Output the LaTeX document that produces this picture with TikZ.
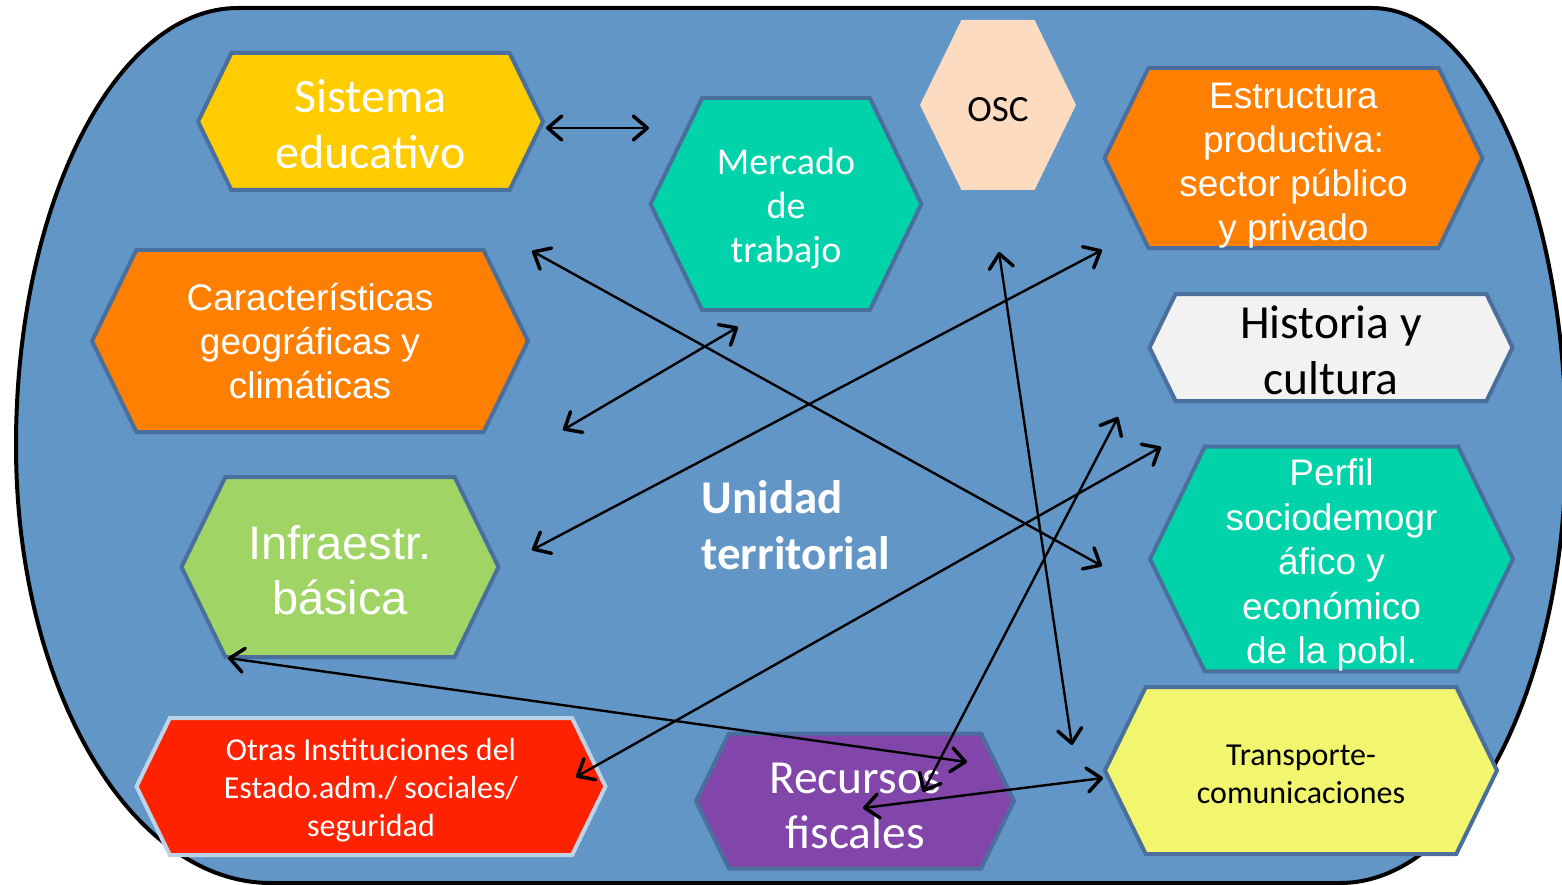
\documentclass[tikz,border=0pt]{standalone}
\usepackage{fontspec}
\setmainfont{Carlito}
\newfontfamily\arialfont{Liberation Sans}
\usetikzlibrary{shapes.symbols,arrows.meta}

\definecolor{fondo}{HTML}{6296C7}
\definecolor{borde}{HTML}{4A6F9C}
\definecolor{amarillo}{HTML}{FFCC00}
\definecolor{turquesa}{HTML}{00D2AA}
\definecolor{durazno}{HTML}{FDDBC0}
\definecolor{naranja}{HTML}{FF7F00}
\definecolor{gris}{HTML}{F2F2F2}
\definecolor{verde}{HTML}{A0D464}
\definecolor{rojo}{HTML}{FF2200}
\definecolor{celeste}{HTML}{BCD3E8}
\definecolor{morado}{HTML}{8246AA}
\definecolor{limon}{HTML}{F2F56E}

\newcommand{\fs}[2]{\fontsize{#1}{#2}\selectfont}
% strut on the first line, pushes the text down a little
\newcommand{\tope}[1]{\rule{0pt}{#1pt}}

\begin{document}
\begin{tikzpicture}[x=1pt, y=-1pt,
  hexa/.style={signal, signal to=east and west, signal pointer angle=128,
    draw=borde, line width=4pt, inner sep=0pt, align=center, text=white},
  flecha/.style={line width=2.4pt, >={Straight Barb[length=14pt,width=24pt,line width=3.5pt,round]}, <->}]

\useasboundingbox (0,0) rectangle (1562,885);

% Background
\draw[fill=fondo, line width=4pt] (238,8) -- (1372,8)
  arc[start angle=-90, end angle=0, x radius=194, y radius=437.5]
  arc[start angle=0, end angle=90, x radius=226, y radius=437.5]
  -- (271,883)
  arc[start angle=90, end angle=180, x radius=255, y radius=437.5]
  arc[start angle=180, end angle=270, x radius=222, y radius=437.5]
  -- cycle;

% Nodes
\node (sis) [hexa, fill=amarillo, minimum width=345pt, minimum height=137pt, font=\fs{48}{56}] at (370.5,121.5) {\tope{38}Sistema\\educativo};
\node (mer) [hexa, fill=turquesa, minimum width=271pt, minimum height=212pt, font=\fs{38}{44}] at (786,204) {\tope{35.5}Mercado\\de\\trabajo};
\node (osc) [hexa, fill=durazno, draw=none, text=black, minimum width=156pt, minimum height=170pt, font=\fs{37}{44}] at (998,105) {\tope{32.5}OSC};
\node (est) [hexa, fill=naranja, minimum width=378pt, minimum height=180pt, font=\arialfont\fs{37}{44}] at (1293.5,158) {\tope{40.5}Estructura\\productiva:\\sector público\\y privado};
\node (car) [hexa, fill=naranja, minimum width=436pt, minimum height=182pt, font=\arialfont\fs{37}{44}] at (310,341) {Características\\geográficas y\\climáticas};
\node (his) [hexa, fill=gris, text=black, minimum width=363pt, minimum height=107pt, font=\fs{47.5}{56}] at (1331,347.5) {\tope{39}Historia y\\cultura};
\node (inf) [hexa, fill=verde, minimum width=317pt, minimum height=180pt, font=\arialfont\fs{47}{55}] at (340,567) {\tope{40.3}Infraestr.\\básica};
\node (per) [hexa, fill=turquesa, minimum width=363pt, minimum height=224pt, font=\arialfont\fs{37}{44.5}] at (1331.5,559) {\tope{39}Perfil\\sociodemogr\\áfico y\\económico\\de la pobl.};
\node (otr) [hexa, fill=rojo, draw=celeste, minimum width=469pt, minimum height=137pt, font=\fs{32}{38}] at (371,786.5) {\tope{30.4}Otras Instituciones del\\Estado.adm./ sociales/\\seguridad};
\node (rec) [hexa, fill=morado, minimum width=318pt, minimum height=135pt, font=\fs{47.5}{55}] at (855,801) {\tope{40.6}Recursos\\fiscales};
\node (tra) [hexa, fill=limon, text=black, minimum width=392pt, minimum height=167pt, font=\fs{32}{38}] at (1301,770.5) {\tope{28.6}Transporte-\\comunicaciones};
\node (uni) [anchor=west, align=left, text=white, font=\bfseries\fs{47}{56}] at (698,525) {Unidad\\territorial};

% Arrow ends
\coordinate (sisE) at (546,128);
\coordinate (merW) at (649,128);
\coordinate (sisSE) at (532,251);
\coordinate (perW) at (1102,566);
\coordinate (carE) at (563,430);
\coordinate (merS) at (738,327);
\coordinate (infE) at (532,550);
\coordinate (estW) at (1102,250);
\coordinate (oscS) at (999,252);
\coordinate (traN) at (1072,745);
\coordinate (hisW) at (1118,417);
\coordinate (recN) at (923,792);
\coordinate (perNW) at (1161,447);
\coordinate (otrE) at (576,777);
\coordinate (infS) at (228,658);
\coordinate (recE) at (967,762);
\coordinate (recW) at (863,808);
\coordinate (traW) at (1103,778);

% Arrows
\draw[flecha] (sisE) -- (merW);
\draw[flecha] (sisSE) -- (perW);
\draw[flecha] (carE) -- (merS);
\draw[flecha] (infE) -- (estW);
\draw[flecha] (oscS) -- (traN);
\draw[flecha] (hisW) -- (recN);
\draw[flecha] (perNW) -- (otrE);
\draw[flecha] (infS) -- (recE);
\draw[flecha] (recW) -- (traW);

\end{tikzpicture}
\end{document}
